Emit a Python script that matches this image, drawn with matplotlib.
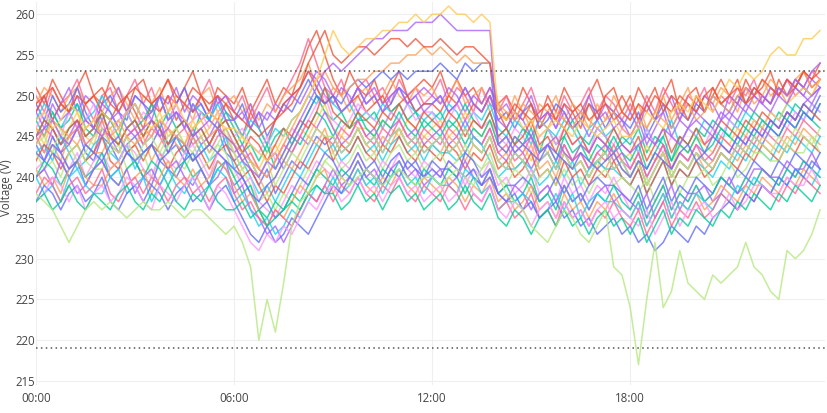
import numpy as np
import matplotlib
matplotlib.use('Agg')
import matplotlib.pyplot as plt

plt.rcParams['font.family'] = ['Open Sans', 'DejaVu Sans']

# ---------------- data ----------------
interval_h = 0.25                      # 15-minute readings starting 00:00
tick_hours = [0, 6, 12, 18]
tick_labels = ['00:00', '06:00', '12:00', '18:00']
y_ticks = [215, 220, 225, 230, 235, 240, 245, 250, 255, 260]
limit_upper = 253
limit_lower = 219

volt_lowgreen = [238,237,236,234,232,234,236,237, 236,237,236,235,236,237,236,236, 237,236,235,236,236,235,234,233,
                 234,232,229,220,225,221,227,234, 237,238,240,242,241,240,239,240, 241,240,239,240,241,240,239,240,
                 240,239,240,241,240,239,241,242, 240,238,237,236,234,233,232,234, 236,235,233,232,234,236,229,228,
                 224,217,225,232,224,226,231,227, 226,225,228,227,228,229,232,229, 228,226,225,231,230,231,233,236]
volt_highyellow = [247,248,246,247,249,248,246,247, 248,247,246,248,249,247,246,247, 248,249,247,246,247,248,247,246,
                   246,245,244,243,242,243,245,247, 248,250,252,255,258,256,255,256, 257,257,258,258,259,259,260,259,
                   260,260,261,260,260,259,260,259, 248,247,248,246,247,245,246,247, 246,245,247,246,245,246,247,245,
                   245,246,248,247,246,248,249,248, 250,249,248,250,252,251,253,252, 253,255,256,255,255,257,257,258]
volt_highpurple = [245,246,247,245,244,246,247,246, 245,247,248,246,245,246,247,245, 246,248,247,245,246,247,246,245,
                   244,242,241,240,242,241,243,245, 247,249,251,253,254,253,254,255, 256,257,257,258,258,258,259,259,
                   259,260,259,258,258,258,258,258, 244,245,243,244,245,243,244,245, 243,242,244,243,245,244,243,244,
                   243,244,245,244,246,245,244,246, 247,246,245,247,248,247,249,248, 250,249,251,250,252,251,253,254]
volt_highred = [249,250,251,249,248,250,249,250, 251,249,248,250,251,250,249,250, 252,250,249,251,250,249,250,249,
                248,247,246,245,246,247,248,249, 251,254,256,258,255,254,255,256, 256,255,256,257,257,256,257,256,
                256,257,256,255,256,256,255,254, 248,247,249,248,247,248,249,247, 246,248,249,247,248,249,247,248,
                247,249,248,250,249,248,250,249, 248,250,251,249,250,251,249,250, 252,251,250,252,251,253,252,253]
volt_orange2 = [246,245,247,246,245,244,246,247, 245,246,247,245,244,246,245,247, 246,245,244,246,247,245,246,245,
                244,243,242,241,240,242,244,246, 248,250,252,253,251,250,251,252, 252,253,253,254,254,255,255,256,
                255,256,255,254,255,254,254,254, 249,248,247,249,248,247,246,248, 247,246,248,247,246,247,248,246,
                245,247,246,248,247,246,248,249, 247,248,250,249,248,250,251,249, 250,252,251,250,252,253,251,252]
volt_blue2 = [243,242,244,243,241,242,244,243, 242,244,245,243,242,243,244,242, 243,245,244,242,243,244,243,242,
              241,240,238,237,239,240,242,244, 246,248,250,249,250,249,251,252, 251,252,253,252,253,252,253,253,
              253,254,253,252,254,253,254,254, 244,243,245,244,243,242,244,243, 242,241,243,242,241,242,243,241,
              240,242,241,243,242,241,243,244, 242,243,245,244,243,245,244,246, 245,247,246,248,247,249,248,250]

volt_bg01 = [251,249,252,250,248,251,253,250, 249,252,250,248,251,252,249,250, 252,249,251,253,250,248,251,250,
             249,251,248,250,252,249,251,250, 253,256,258,255,252,250,253,251, 250,252,249,251,253,250,251,252,
             251,253,250,252,250,251,249,251, 249,250,248,251,249,247,250,248, 251,249,247,250,252,249,248,250,
             248,251,249,247,250,252,248,250, 251,248,250,252,250,249,252,250, 251,253,250,252,251,253,252,254]
volt_bg02 = [250,248,251,249,250,252,249,247, 250,251,248,250,252,249,251,248, 250,249,251,248,250,252,249,250,
             248,250,247,249,251,248,250,252, 254,257,254,251,250,252,249,251, 252,250,251,249,252,250,251,249,
             250,252,249,251,250,248,251,249, 248,250,247,249,251,248,249,247, 250,248,249,251,248,250,249,247,
             249,247,250,248,251,249,247,250, 249,251,248,250,249,251,250,252, 249,251,250,252,250,251,253,252]
volt_bg03 = [249,251,250,248,250,251,249,250, 248,250,251,249,247,250,249,251, 248,250,249,247,250,251,248,249,
             250,248,249,247,249,248,250,251, 252,254,251,249,251,250,248,250, 251,249,250,252,250,249,251,250,
             251,249,250,252,249,250,251,248, 249,247,250,248,246,249,248,250, 247,249,248,246,249,247,250,248,
             247,249,246,248,250,247,249,251, 248,250,249,251,250,248,251,250, 252,250,251,249,252,251,250,252]
volt_bg04 = [248,250,247,249,251,248,250,249, 247,249,251,248,250,249,247,250, 249,251,248,250,249,247,249,250,
             248,247,249,246,248,247,249,250, 251,253,252,250,249,251,250,248, 250,251,249,250,251,249,250,251,
             250,249,251,250,248,250,249,251, 248,249,247,248,250,247,248,246, 249,247,248,250,247,249,248,246,
             248,246,249,247,248,250,247,249, 248,250,249,247,250,249,251,250, 249,251,250,252,251,250,252,251]
volt_bg05 = [249,247,250,248,249,251,248,246, 249,250,248,247,250,249,248,250, 247,249,251,248,249,247,250,248,
             247,249,246,248,245,247,249,248, 250,252,250,249,250,248,249,251, 249,250,248,249,251,250,248,249,
             249,250,248,249,251,249,248,250, 247,248,246,248,249,246,247,249, 248,246,247,249,248,246,248,247,
             246,248,245,247,249,246,248,247, 249,248,250,249,248,250,249,251, 250,249,251,250,252,251,250,251]
volt_bg06 = [248,250,247,249,248,246,249,250, 248,247,249,250,248,246,249,248, 250,247,249,248,250,248,247,249,
             247,245,248,246,244,247,249,250, 251,253,251,249,250,248,249,250, 248,249,250,248,249,250,248,249,
             249,248,250,249,247,249,248,250, 248,246,248,247,249,246,248,247, 249,248,246,249,247,250,251,248,
             250,247,249,251,248,250,249,247, 250,248,251,249,250,252,249,251, 250,249,252,250,251,253,251,252]
volt_bg07 = [247,249,248,246,248,249,247,248, 250,248,246,248,249,247,248,250, 247,248,246,249,248,247,249,247,
             247,245,247,246,244,246,245,247, 248,250,249,251,249,248,249,247, 248,247,249,248,247,249,248,247,
             248,247,249,248,246,248,247,249, 246,245,247,246,244,247,246,245, 247,246,244,246,247,245,246,244,
             245,243,246,244,245,247,244,246, 245,247,246,244,247,246,248,247, 246,248,247,249,248,247,249,248]
volt_bg08 = [247,245,248,246,247,249,246,245, 248,247,245,248,246,247,249,246, 248,246,247,245,248,247,246,248,
             246,244,246,245,243,245,246,244, 246,248,250,248,247,248,246,247, 247,248,246,248,249,247,248,246,
             247,248,246,247,249,247,246,248, 245,246,244,246,245,243,246,244, 245,247,245,244,246,245,243,245,
             244,246,243,245,244,242,245,244, 246,245,247,246,245,247,246,248, 247,246,248,247,249,248,247,249]
volt_bg09 = [246,248,247,245,248,246,247,249, 246,245,247,248,246,248,247,245, 247,249,246,247,248,246,248,247,
             245,246,244,243,245,242,244,246, 245,247,249,250,247,246,247,249, 248,247,246,248,247,249,247,248,
             248,246,247,249,247,248,246,247, 245,244,246,245,243,245,246,244, 246,244,245,243,246,245,244,246,
             245,243,246,244,243,245,244,246, 245,244,246,245,247,246,245,247, 246,248,247,246,248,247,249,248]
volt_bg10 = [246,244,247,245,246,248,245,244, 247,246,244,246,247,245,246,248, 245,246,244,247,245,246,248,245,
             244,245,243,241,243,244,242,244, 246,245,247,249,246,245,247,246, 246,245,247,246,245,247,246,245,
             246,247,245,246,248,246,245,247, 244,243,245,244,242,244,243,245, 243,242,244,243,241,244,243,242,
             243,241,244,242,243,241,244,243, 245,244,243,245,244,246,245,247, 246,248,247,249,250,251,250,252]
volt_bg11 = [245,247,246,244,246,247,245,246, 248,245,244,246,247,245,247,246, 244,246,247,245,246,244,246,247,
             245,243,244,242,244,241,243,245, 244,246,248,247,245,247,246,248, 246,245,247,246,248,246,245,247,
             246,245,247,246,244,246,245,247, 244,245,243,244,246,243,244,242, 245,243,244,242,244,243,245,243,
             242,244,241,243,245,242,244,243, 245,243,244,246,245,244,246,245, 247,246,245,247,246,248,247,246]
volt_bg12 = [245,243,246,244,245,247,244,243, 246,245,243,245,246,244,245,247, 244,245,243,246,244,245,247,244,
             243,244,242,240,242,243,241,243, 245,244,246,248,246,244,245,247, 245,246,244,246,247,245,246,244,
             245,246,244,245,247,245,244,246, 243,242,244,243,241,243,244,242, 244,242,243,241,243,244,242,243,
             241,243,240,242,244,241,243,242, 244,243,242,244,243,245,244,246, 245,247,246,248,247,249,250,251]
volt_bg13 = [244,246,245,243,245,246,244,245, 247,244,243,245,246,244,246,245, 243,245,246,244,245,243,245,246,
             244,242,243,241,240,242,244,243, 245,247,246,245,244,246,245,247, 245,244,246,245,247,245,244,246,
             245,244,246,245,243,245,244,246, 243,244,242,243,245,242,243,241, 244,242,243,241,243,242,244,242,
             241,243,240,242,244,241,243,242, 244,242,243,245,244,243,245,244, 246,245,244,246,245,247,246,245]
volt_bg14 = [244,242,245,243,244,246,243,242, 245,244,242,244,245,243,244,246, 243,244,242,245,243,244,246,243,
             242,243,241,239,241,238,240,242, 241,243,245,244,245,243,244,246, 244,245,243,245,246,244,245,243,
             244,245,243,244,246,244,243,245, 242,241,243,242,240,242,243,241, 243,241,242,240,242,243,241,242,
             240,242,239,241,243,240,242,241, 243,242,241,243,242,244,243,245, 244,246,245,247,246,248,247,249]
volt_bg15 = [245,243,244,242,245,246,244,243, 243,245,246,243,244,245,242,244, 246,244,243,245,243,244,246,245,
             243,241,242,240,238,240,242,241, 243,245,244,246,243,245,244,246, 244,243,245,244,246,244,243,245,
             244,243,245,244,242,244,243,245, 242,243,241,242,244,241,242,240, 243,241,242,240,242,241,243,241,
             240,242,239,241,243,240,242,241, 243,241,242,244,243,242,244,243, 245,244,243,245,244,246,245,244]
volt_bg16 = [243,244,242,245,243,241,242,244, 245,243,242,244,241,243,244,242, 244,245,243,242,244,242,243,245,
             241,242,240,238,239,237,239,241, 240,242,244,243,244,242,243,245, 243,244,242,244,245,243,244,242,
             244,243,243,242,243,245,244,242, 240,241,241,242,241,239,240,242, 240,242,239,241,242,241,241,240,
             239,241,238,240,242,239,241,240, 242,241,240,242,241,243,242,244, 243,242,244,243,245,244,243,245]
volt_bg17 = [242,244,243,241,243,244,242,243, 245,242,241,243,244,242,244,243, 241,243,244,242,243,241,243,244,
             242,240,241,239,237,239,238,240, 242,241,243,245,242,244,243,245, 243,242,244,243,245,243,242,244,
             243,242,244,243,241,243,242,244, 241,242,240,241,243,240,241,239, 242,240,241,239,241,240,242,240,
             239,241,238,240,242,239,241,240, 242,240,241,243,242,241,243,242, 244,243,242,244,243,245,244,243]
volt_bg18 = [243,241,242,240,243,244,242,241, 241,243,244,241,242,243,240,242, 244,242,241,243,241,242,244,243,
             240,241,239,237,238,236,238,237, 239,241,240,242,243,241,242,244, 242,243,241,243,244,242,243,241,
             242,243,241,242,244,242,241,243, 240,239,241,240,238,240,241,239, 241,239,240,238,240,241,239,240,
             239,238,240,237,239,241,238,240, 240,241,239,240,242,240,241,243, 243,242,242,244,243,243,245,243]
volt_bg19 = [241,242,244,243,241,243,240,242, 243,241,242,244,243,241,240,243, 242,241,243,244,242,240,243,242,
             241,239,240,237,236,235,237,239, 238,240,242,241,240,242,241,243, 241,240,242,241,243,241,240,242,
             241,240,242,241,239,241,240,242, 239,240,238,239,241,238,239,237, 240,238,239,237,239,238,240,238,
             236,238,235,237,239,236,238,237, 239,237,238,240,239,238,240,239, 241,240,239,241,240,242,241,240]
volt_bg20 = [240,241,243,242,240,242,239,241, 242,240,241,243,242,240,239,242, 241,240,242,243,241,239,242,241,
             239,240,238,236,237,235,236,238, 240,239,241,243,242,240,241,243, 241,242,240,242,243,241,242,240,
             242,241,241,240,243,242,240,241, 238,239,239,240,239,237,238,240, 238,240,237,239,240,239,239,238,
             237,239,236,238,240,237,239,238, 240,239,238,240,239,241,240,242, 241,240,242,241,243,242,241,243]
volt_bg21 = [240,242,241,239,241,242,240,241, 243,240,239,241,242,240,242,241, 239,241,242,240,241,239,241,242,
             240,238,239,236,235,237,236,238, 237,239,241,240,239,241,240,242, 240,239,241,240,242,240,239,241,
             240,239,241,240,238,240,239,241, 238,239,237,238,240,237,238,236, 239,237,238,236,238,237,239,237,
             236,238,235,237,239,236,238,237, 239,237,238,240,239,238,240,239, 241,240,239,241,240,242,241,240]
volt_bg22 = [240,241,239,242,240,238,239,241, 242,240,239,241,238,240,241,239, 241,242,240,239,241,239,240,242,
             238,239,236,235,233,234,232,234, 236,238,237,239,241,239,240,242, 240,241,239,241,242,240,241,239,
             240,241,239,240,242,240,239,241, 238,237,239,238,236,238,239,237, 239,237,238,236,238,239,237,238,
             237,236,238,235,237,239,236,238, 238,239,237,238,240,238,239,241, 241,240,240,242,241,241,243,241]
volt_bg23 = [241,239,240,238,241,242,240,239, 239,241,242,239,240,241,238,240, 242,240,239,241,239,240,242,241,
             239,237,238,236,234,236,235,237, 239,238,240,241,238,240,239,241, 239,238,240,239,241,239,238,240,
             239,238,240,239,237,239,238,240, 237,238,236,237,239,236,237,235, 238,236,237,235,237,236,238,236,
             235,237,234,236,238,235,237,236, 238,236,237,239,238,237,239,238, 240,239,238,240,239,241,240,239]
volt_bg24 = [240,238,239,237,240,241,239,238, 238,240,241,238,239,240,237,239, 241,239,238,240,238,239,241,240,
             237,238,236,234,235,233,234,236, 235,237,239,238,240,238,239,241, 239,240,238,240,241,239,240,238,
             240,239,239,238,241,240,238,239, 236,237,237,238,237,235,236,238, 236,238,235,237,238,237,237,236,
             235,237,234,236,238,235,237,236, 238,237,236,238,237,239,238,240, 239,238,240,239,241,240,239,241]
volt_bg25 = [238,240,239,237,239,240,238,239, 241,238,237,239,240,238,240,239, 237,239,240,238,239,237,239,240,
             238,236,237,235,234,236,235,234, 236,238,237,239,237,239,238,240, 238,237,239,238,240,238,237,239,
             238,237,239,238,236,238,237,239, 236,237,235,236,238,235,236,234, 237,235,236,234,236,235,237,235,
             234,236,233,235,237,234,236,235, 237,235,236,238,237,236,238,237, 239,238,237,239,238,240,239,238]
volt_bg26 = [237,239,238,236,238,239,237,238, 240,237,236,238,239,237,239,238, 236,238,239,237,238,236,238,239,
             237,235,233,232,234,232,233,235, 234,233,235,237,239,238,240,239, 241,240,239,241,240,242,241,240,
             241,240,242,241,240,241,239,240, 238,237,238,236,237,235,236,237, 235,236,234,235,233,234,235,233,
             234,232,233,231,232,234,233,232, 234,233,235,236,237,236,238,237, 239,238,240,239,241,240,242,241]
volt_bg27 = [237,238,240,239,237,239,236,238, 239,237,238,240,239,237,236,239, 238,237,239,240,238,236,239,238,
             236,234,232,231,233,232,234,233, 235,237,236,238,239,237,238,240, 238,239,237,239,240,238,239,237,
             238,239,237,238,240,238,237,239, 236,235,237,236,234,236,237,235, 237,235,236,234,236,237,235,236,
             235,234,236,233,235,237,234,236, 236,237,235,236,238,236,237,239, 239,238,238,240,239,239,241,239]
volt_bg28 = [237,238,236,237,239,237,236,238, 237,236,238,239,237,236,238,237, 239,237,236,238,237,239,237,236,
             236,237,235,236,234,235,236,237, 236,238,239,238,238,236,237,239, 237,238,236,238,239,237,238,236,
             237,238,236,237,239,237,236,238, 235,234,236,235,233,235,236,234, 236,234,235,233,235,236,234,235,
             233,235,232,234,236,233,235,234, 236,235,234,236,235,237,236,238, 237,236,238,237,239,238,237,239]
volt_bg29 = [248,246,249,247,248,250,247,246, 249,248,246,248,249,247,248,250, 247,248,246,249,247,248,250,247,
             247,248,246,248,247,249,248,250, 249,251,253,252,250,248,249,251, 249,250,248,250,251,249,250,248,
             249,250,248,249,251,249,248,250, 247,246,248,247,245,247,248,246, 248,246,247,245,247,248,246,247,
             245,247,244,246,248,245,247,246, 248,247,246,248,247,249,248,250, 249,248,250,249,251,250,249,251]
volt_bg30 = [245,247,246,244,246,247,245,246, 248,245,244,246,247,245,247,246, 244,246,247,245,246,244,246,247,
             245,243,245,244,242,244,246,245, 247,246,248,251,248,247,246,248, 247,246,248,247,249,247,246,248,
             247,246,248,247,245,247,246,248, 245,246,244,245,247,244,245,243, 246,244,245,243,245,244,246,244,
             243,245,242,244,246,243,245,244, 246,244,245,247,246,245,247,246, 248,247,246,248,247,249,248,247]
volt_bg31 = [244,245,243,246,244,242,243,245, 246,244,243,245,242,244,245,243, 245,246,244,243,245,243,244,246,
             243,241,242,240,242,239,241,243, 242,244,246,245,245,243,244,246, 244,245,243,245,246,244,245,243,
             244,245,243,244,246,244,243,245, 242,241,243,242,240,242,243,241, 243,241,242,240,242,243,241,242,
             240,242,239,241,243,240,242,241, 243,242,241,243,242,244,243,245, 244,243,245,244,246,245,244,246]

# plotly default colour sequence
C_BLUE, C_RED, C_GREEN, C_PURPLE, C_ORANGE = '#636EFA', '#EF553B', '#00CC96', '#AB63FA', '#FFA15A'
C_CYAN, C_SALMON, C_LGREEN, C_PINK, C_YELLOW = '#19D3F3', '#FF6692', '#B6E880', '#FF97FF', '#FECB52'

series = [
    (volt_bg01, C_RED), (volt_bg02, C_SALMON), (volt_bg03, C_ORANGE), (volt_bg04, C_PURPLE),
    (volt_bg05, C_BLUE), (volt_bg06, C_RED), (volt_bg07, C_CYAN), (volt_bg08, C_GREEN),
    (volt_bg09, C_PINK), (volt_bg10, C_YELLOW), (volt_bg11, C_GREEN), (volt_bg12, C_PURPLE),
    (volt_bg13, C_SALMON), (volt_bg14, C_BLUE), (volt_bg15, C_ORANGE), (volt_bg16, C_CYAN),
    (volt_bg17, C_RED), (volt_bg18, C_LGREEN), (volt_bg19, C_PINK), (volt_bg20, C_BLUE),
    (volt_bg21, C_GREEN), (volt_bg22, C_PURPLE), (volt_bg23, C_ORANGE), (volt_bg24, C_CYAN),
    (volt_bg25, C_SALMON), (volt_bg26, C_BLUE), (volt_bg27, C_PINK), (volt_bg28, C_GREEN),
    (volt_bg29, C_PURPLE), (volt_bg30, C_RED), (volt_bg31, C_LGREEN),
    (volt_lowgreen, C_LGREEN), (volt_blue2, C_BLUE), (volt_orange2, C_ORANGE),
    (volt_highred, C_RED), (volt_highpurple, C_PURPLE), (volt_highyellow, C_YELLOW),
]

# ---------------- drawing ----------------
W, H = 827, 413
fig = plt.figure(figsize=(W / 100, H / 100), dpi=100)
ax = fig.add_axes([36 / W, 28 / H, 789 / W, 383 / H])

for vals, col in series:
    t = np.arange(len(vals)) * interval_h
    ax.plot(t, vals, color=col, lw=1.1, alpha=0.8, solid_joinstyle='round')

for lim in (limit_upper, limit_lower):
    ax.axhline(lim, color='#555555', lw=1.1, linestyle=(0, (1, 2.2)), zorder=5)

ax.set_xlim(0, 23.9)
ax.set_ylim(214.5, 261.5)
ax.set_xticks(tick_hours)
ax.set_xticklabels(tick_labels)
ax.set_yticks(y_ticks)
ax.grid(True, color='#efefef', lw=0.8)
ax.set_axisbelow(True)
for s in ax.spines.values():
    s.set_visible(False)
ax.tick_params(axis='both', length=0, labelsize=8.3, labelcolor='#444444')
ax.tick_params(axis='y', pad=1)
ax.tick_params(axis='x', pad=5)

fig.text(7 / W, 0.545, 'Voltage (V)', rotation=90, va='center', ha='center',
         fontsize=8.3, color='#444444')

fig.savefig('out.png', dpi=100, facecolor='white')
